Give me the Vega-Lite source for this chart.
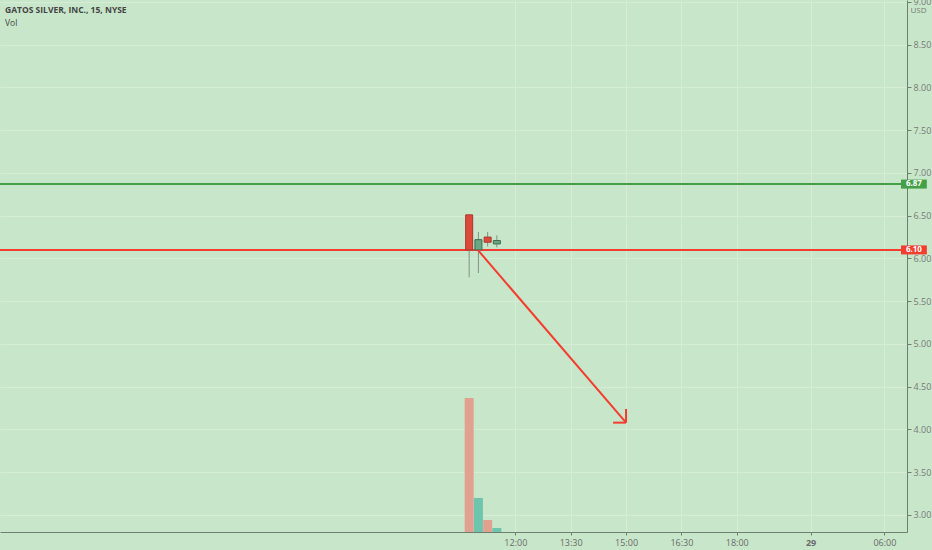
{
  "$schema": "https://vega.github.io/schema/vega-lite/v6.json",
  "width": 907,
  "height": 532,
  "autosize": {"type": "none"},
  "padding": {"left": 0, "top": 0, "right": 25, "bottom": 18},
  "background": "#c8e6c9",
  "config": {"view": {"stroke": null}, "font": "Open Sans"},
  "title": {
    "text": "GATOS SILVER, INC., 15, NYSE",
    "subtitle": "Vol",
    "anchor": "start",
    "frame": "group",
    "orient": "top",
    "offset": -30,
    "dx": 5,
    "fontSize": 8.5,
    "fontWeight": "bold",
    "color": "#454545",
    "subtitleFontSize": 8.5,
    "subtitleColor": "#454545",
    "subtitlePadding": 5
  },
  "datasets": {
    "candles": [
      {"t": -75, "open": 6.51, "high": 6.51, "low": 5.78, "close": 6.10, "volume": 1007000, "dir": "down"},
      {"t": -60, "open": 6.10, "high": 6.31, "low": 5.83, "close": 6.22, "volume": 256000, "dir": "up"},
      {"t": -45, "open": 6.25, "high": 6.31, "low": 6.14, "close": 6.19, "volume": 90000, "dir": "down"},
      {"t": -30, "open": 6.17, "high": 6.27, "low": 6.13, "close": 6.21, "volume": 30000, "dir": "up"}
    ],
    "levels": [
      {"price": 6.87, "kind": "resistance"},
      {"price": 6.10, "kind": "support"}
    ],
    "arrow": [
      {"x": -61, "y": 6.10, "x2": 180, "y2": 4.08},
      {"x": 180, "y": 4.08, "x2": 180, "y2": 4.24},
      {"x": 180, "y": 4.08, "x2": 159, "y2": 4.08}
    ]
  },
  "layer": [
    {
      "data": {"name": "candles"},
      "mark": {"type": "bar", "width": 9},
      "encoding": {
        "x": {
          "field": "t",
          "type": "quantitative",
          "scale": {"domain": [-829.6, 628.6], "nice": false, "zero": false},
          "axis": {
            "orient": "bottom",
            "title": null,
            "values": [0, 90, 180, 270, 360, 480, 600],
            "labelExpr": "datum.value==0?'12:00':datum.value==90?'13:30':datum.value==180?'15:00':datum.value==270?'16:30':datum.value==360?'18:00':datum.value==480?'29':'06:00'",
            "labelFontSize": 9,
            "labelColor": "#6b6b6b",
            "labelFontWeight": {"condition": {"test": "datum.value == 480", "value": "bold"}, "value": "normal"},
            "labelPadding": 3,
            "tickSize": 3,
            "tickColor": "#6f7f6f",
            "domainColor": "#6f7f6f",
            "domainWidth": 1,
            "grid": true,
            "gridColor": "#d5edd6",
            "gridWidth": 1
          }
        },
        "y": {
          "field": "volume",
          "type": "quantitative",
          "scale": {"domain": [0, 4000000], "nice": false},
          "axis": null
        },
        "color": {
          "field": "dir",
          "type": "nominal",
          "scale": {"domain": ["down", "up"], "range": ["#e2a091", "#6ec4ac"]},
          "legend": null
        }
      }
    },
    {
      "layer": [
        {
          "data": {"name": "levels"},
          "mark": {"type": "rule", "strokeWidth": 2},
          "encoding": {
            "y": {
              "field": "price",
              "type": "quantitative",
              "scale": {"domain": [2.801, 9.023], "nice": false, "zero": false},
              "axis": {
                "orient": "right",
                "title": "USD",
                "titleAngle": 0,
                "titleAnchor": "end",
                "titleAlign": "center",
                "titleBaseline": "middle",
                "titleX": 11,
                "titleY": 10.5,
                "titleFontSize": 8,
                "titleFontWeight": "normal",
                "titleColor": "#7a7a7a",
                "values": [3, 3.5, 4, 4.5, 5, 5.5, 6, 6.5, 7, 7.5, 8, 8.5, 9],
                "format": ".2f",
                "labelFlush": false,
                "labelOverlap": false,
                "labelFontSize": 9,
                "labelColor": "#7a7a7a",
                "labelPadding": 2,
                "tickSize": 4,
                "tickColor": "#6f7f6f",
                "domainColor": "#6f7f6f",
                "grid": true,
                "gridColor": "#d5edd6",
                "gridWidth": 1
              }
            },
            "color": {
              "field": "kind",
              "type": "nominal",
              "scale": {"domain": ["resistance", "support"], "range": ["#43a047", "#f23d2f"]},
              "legend": null
            }
          }
        },
        {
          "data": {"name": "candles"},
          "mark": {"type": "rule", "strokeWidth": 1, "color": "#7f9486"},
          "encoding": {
            "x": {"field": "t", "type": "quantitative"},
            "y": {"field": "low", "type": "quantitative"},
            "y2": {"field": "high"}
          }
        },
        {
          "data": {"name": "candles"},
          "mark": {"type": "bar", "width": 7, "strokeWidth": 1},
          "encoding": {
            "x": {"field": "t", "type": "quantitative"},
            "y": {"field": "open", "type": "quantitative"},
            "y2": {"field": "close"},
            "fill": {
              "field": "dir",
              "type": "nominal",
              "scale": {"domain": ["down", "up"], "range": ["#dd4a3b", "#68a882"]},
              "legend": null
            },
            "stroke": {
              "field": "dir",
              "type": "nominal",
              "scale": {"domain": ["down", "up"], "range": ["#a8362b", "#3e6b50"]},
              "legend": null
            }
          }
        },
        {
          "data": {"name": "arrow"},
          "mark": {"type": "rule", "strokeWidth": 2, "color": "#f23d2f"},
          "encoding": {
            "x": {"field": "x", "type": "quantitative"},
            "x2": {"field": "x2"},
            "y": {"field": "y", "type": "quantitative"},
            "y2": {"field": "y2"}
          }
        },
        {
          "data": {"name": "levels"},
          "mark": {"type": "rect", "height": 9, "clip": false},
          "encoding": {
            "x": {"datum": 627, "type": "quantitative"},
            "x2": {"datum": 669},
            "y": {"field": "price", "type": "quantitative"},
            "color": {"field": "kind", "type": "nominal", "legend": null}
          }
        },
        {
          "data": {"name": "levels"},
          "mark": {"type": "text", "fontSize": 8, "fontWeight": "bold", "color": "white", "clip": false},
          "encoding": {
            "x": {"datum": 648, "type": "quantitative"},
            "y": {"field": "price", "type": "quantitative"},
            "text": {"field": "price", "type": "quantitative", "format": ".2f"}
          }
        }
      ]
    }
  ],
  "resolve": {"scale": {"y": "independent", "color": "independent"}}
}
